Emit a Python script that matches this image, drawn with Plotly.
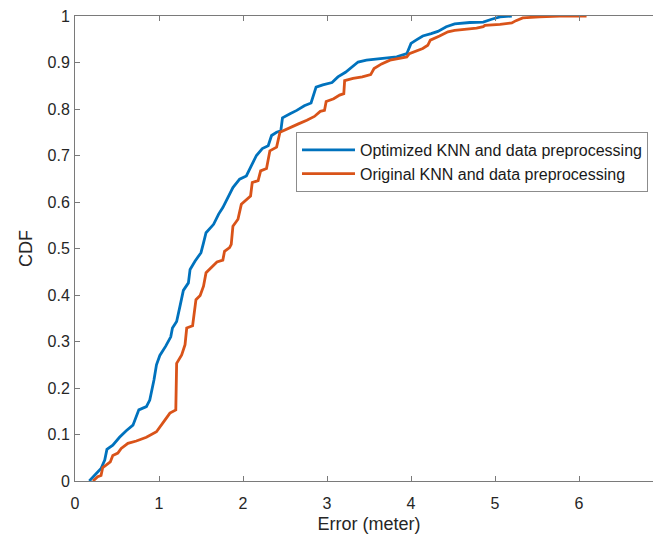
import plotly.graph_objects as go

# Optimized KNN and data preprocessing (CDF of error)
opt_err = [0.17, 0.235, 0.31, 0.354, 0.38, 0.45, 0.53, 0.61, 0.69, 0.76, 0.85, 0.89, 0.92, 0.94,
           0.97, 1.01, 1.08, 1.14, 1.16, 1.21, 1.25, 1.29, 1.35, 1.37, 1.43, 1.50, 1.53, 1.56,
           1.65, 1.71, 1.76, 1.82, 1.88, 1.96, 2.04, 2.10, 2.16, 2.23, 2.30, 2.34, 2.40, 2.45,
           2.47, 2.56, 2.64, 2.73, 2.81, 2.87, 2.95, 3.06, 3.13, 3.22, 3.30, 3.37, 3.47, 3.67,
           3.83, 3.95, 4.00, 4.06, 4.14, 4.24, 4.32, 4.42, 4.52, 4.70, 4.86, 4.96, 5.06, 5.20]
opt_cdf = [0.0, 0.012, 0.027, 0.045, 0.068, 0.077, 0.094, 0.108, 0.12, 0.153, 0.16, 0.174, 0.196,
           0.217, 0.25, 0.27, 0.29, 0.31, 0.329, 0.343, 0.376, 0.41, 0.426, 0.455, 0.473, 0.491,
           0.512, 0.534, 0.552, 0.574, 0.588, 0.61, 0.631, 0.649, 0.656, 0.678, 0.70, 0.715,
           0.721, 0.743, 0.75, 0.753, 0.781, 0.79, 0.797, 0.807, 0.813, 0.847, 0.852, 0.857,
           0.869, 0.879, 0.89, 0.901, 0.905, 0.908, 0.912, 0.919, 0.941, 0.948, 0.957, 0.962,
           0.967, 0.977, 0.983, 0.986, 0.987, 0.993, 0.998, 1.0]

# Original KNN and data preprocessing (CDF of error)
orig_err = [0.214, 0.27, 0.31, 0.33, 0.37, 0.42, 0.45, 0.51, 0.55, 0.63, 0.73, 0.85, 0.97, 1.01,
            1.07, 1.13, 1.20, 1.21, 1.27, 1.31, 1.33, 1.40, 1.44, 1.49, 1.53, 1.56, 1.62, 1.69,
            1.76, 1.78, 1.84, 1.86, 1.88, 1.94, 1.98, 2.04, 2.09, 2.11, 2.18, 2.21, 2.28, 2.32,
            2.40, 2.44, 2.52, 2.60, 2.66, 2.76, 2.85, 2.92, 2.97, 2.99, 3.08, 3.15, 3.20, 3.21,
            3.31, 3.42, 3.52, 3.56, 3.65, 3.75, 3.87, 3.95, 3.98, 4.04, 4.14, 4.20, 4.23, 4.34,
            4.44, 4.52, 4.66, 4.78, 4.86, 4.88, 5.06, 5.20, 5.25, 5.33, 5.53, 5.77, 6.09]
orig_cdf = [0.0, 0.009, 0.012, 0.029, 0.034, 0.041, 0.055, 0.06, 0.07, 0.081, 0.086, 0.094, 0.106,
            0.117, 0.131, 0.146, 0.153, 0.253, 0.271, 0.293, 0.329, 0.334, 0.39, 0.399, 0.419,
            0.448, 0.459, 0.471, 0.475, 0.494, 0.502, 0.509, 0.548, 0.563, 0.595, 0.606, 0.613,
            0.642, 0.646, 0.667, 0.672, 0.71, 0.718, 0.75, 0.757, 0.763, 0.768, 0.776, 0.784,
            0.795, 0.797, 0.816, 0.822, 0.83, 0.833, 0.861, 0.866, 0.869, 0.874, 0.887, 0.897,
            0.905, 0.91, 0.912, 0.919, 0.923, 0.93, 0.937, 0.948, 0.957, 0.966, 0.969, 0.971,
            0.974, 0.977, 0.98, 0.982, 0.985, 0.99, 0.996, 0.998, 1.0, 1.0]

names = ["Optimized KNN and data preprocessing", "Original KNN and data preprocessing"]
x_ticks = [0, 1, 2, 3, 4, 5, 6, 7]
y_ticks = [0, 0.1, 0.2, 0.3, 0.4, 0.5, 0.6, 0.7, 0.8, 0.9, 1]

# the page body adds an 8px offset; the plot box extends just past the window's right edge
W, H = 661, 540
ML, MR, MT, MB = 67, 6, 8, 67
PW, PH = W - ML - MR, H - MT - MB

axis_col = "#7a7a7a"
txt_col = "#262626"
font_fam = "Liberation Sans, Arial, sans-serif"

fig = go.Figure()
fig.add_trace(go.Scatter(x=opt_err, y=opt_cdf, mode="lines", name=names[0],
                         line=dict(color="#0072BD", width=2.8)))
fig.add_trace(go.Scatter(x=orig_err, y=orig_cdf, mode="lines", name=names[1],
                         line=dict(color="#D95319", width=2.8)))

fig.update_layout(
    width=W, height=H,
    margin=dict(l=ML, r=MR, t=MT, b=MB, autoexpand=False),
    paper_bgcolor="white", plot_bgcolor="white",
    font=dict(family=font_fam, color=txt_col, size=16),
    showlegend=True,
    legend=dict(
        x=(288 - ML) / PW, y=(H - MB - 124) / PH,
        xanchor="left", yanchor="top",
        bgcolor="white", bordercolor="#8c8c8c", borderwidth=1,
        font=dict(size=16, color="#1a1a1a", family=font_fam),
        itemwidth=53, entrywidth=345, entrywidthmode="pixels",
        tracegroupgap=0,
    ),
    xaxis=dict(
        range=[0, 7], tickvals=x_ticks, ticktext=[str(v) for v in x_ticks],
        ticks="inside", ticklen=5, tickcolor=axis_col, tickwidth=1,
        showline=True, linecolor=axis_col, linewidth=1, mirror="ticks",
        showgrid=False, zeroline=False, ticklabeloverflow="allow",
        tickfont=dict(size=16, color=txt_col), ticklabelstandoff=8,
        title=dict(text="Error (meter)", font=dict(size=18, color=txt_col), standoff=6),
        automargin=False,
    ),
    yaxis=dict(
        range=[0, 1], tickvals=y_ticks, ticktext=[("%g" % v) for v in y_ticks],
        ticks="inside", ticklen=5, tickcolor=axis_col, tickwidth=1,
        showline=True, linecolor=axis_col, linewidth=1, mirror="ticks",
        showgrid=False, zeroline=False, ticklabeloverflow="allow",
        tickfont=dict(size=16, color=txt_col), ticklabelstandoff=1,
        title=dict(text="CDF", font=dict(size=18, color=txt_col), standoff=10),
        automargin=False,
    ),
)

fig.write_html("out.html")
